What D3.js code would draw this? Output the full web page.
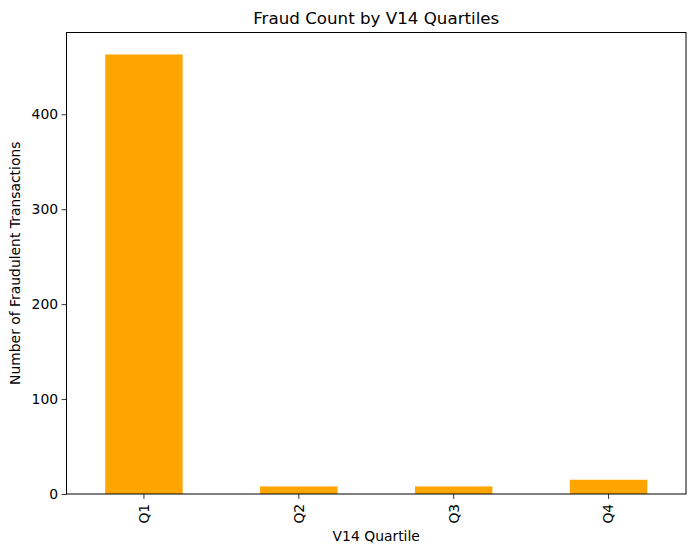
<!DOCTYPE html>
<html><head><meta charset="utf-8">
<script src="https://cdn.jsdelivr.net/npm/d3@7"></script>
<style>body{margin:0;background:#fff}svg{display:block}text{font-family:"DejaVu Sans",sans-serif}</style>
</head><body><svg id="c" width="695" height="553"></svg>
<script>
const categories = ["Q1","Q2","Q3","Q4"];
const fraudCounts = [463, 8, 8, 15];
const yTicks = [0,100,200,300,400];

const W=695,H=553, m={l:66.5,r:9,t:32.5,b:59};
const svg=d3.select("#c");
const x=d3.scaleBand().domain(categories).range([m.l,W-m.r]).paddingInner(0.5).paddingOuter(0.25);
const y=d3.scaleLinear().domain([0,d3.max(fraudCounts)*1.05]).range([H-m.b,m.t]);

svg.append("g").selectAll("rect").data(categories).join("rect")
 .attr("x",d=>x(d)).attr("width",x.bandwidth())
 .attr("y",(d,i)=>y(fraudCounts[i])).attr("height",(d,i)=>y(0)-y(fraudCounts[i]))
 .attr("fill","#ffa500");

const ya=svg.append("g").attr("transform",`translate(${m.l},0)`)
 .call(d3.axisLeft(y).tickValues(yTicks).tickSize(4.9).tickPadding(3.5).tickFormat(d3.format("d")));
ya.select(".domain").remove();
ya.selectAll("text").attr("font-size","13.9px").attr("fill","#000");
ya.selectAll("line").attr("stroke","#000").attr("stroke-width",0.8);

const xa=svg.append("g").attr("transform",`translate(0,${H-m.b})`)
 .call(d3.axisBottom(x).tickSize(4.9).tickPadding(3.5));
xa.select(".domain").remove();
xa.selectAll("line").attr("stroke","#000").attr("stroke-width",0.8);
xa.selectAll("text").attr("font-size","13.9px").attr("fill","#000")
 .attr("transform","rotate(-90)").attr("text-anchor","end").attr("dy","0.35em")
 .attr("x",-9.8).attr("y",0);

svg.append("rect").attr("x",m.l).attr("y",m.t).attr("width",W-m.r-m.l).attr("height",H-m.b-m.t)
 .attr("fill","none").attr("stroke","#000").attr("stroke-width",1);

svg.append("text").attr("x",(m.l+W-m.r)/2).attr("y",24).attr("text-anchor","middle")
 .attr("font-size","16.7px").text("Fraud Count by V14 Quartiles");
svg.append("text").attr("x",(m.l+W-m.r)/2).attr("y",541).attr("text-anchor","middle")
 .attr("font-size","13.9px").text("V14 Quartile");
svg.append("text").attr("transform",`translate(20,${(m.t+H-m.b)/2}) rotate(-90)`).attr("text-anchor","middle")
 .attr("font-size","13.9px").text("Number of Fraudulent Transactions");
</script></body></html>
